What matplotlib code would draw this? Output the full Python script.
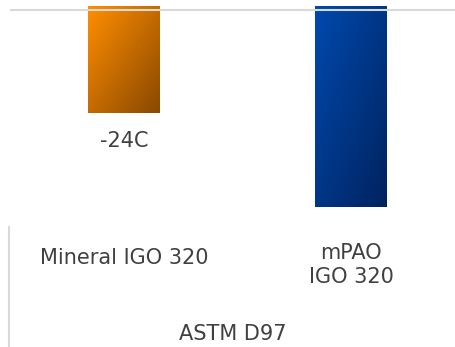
import numpy as np
import matplotlib.pyplot as plt
import matplotlib.transforms as mtransforms
from matplotlib.colors import LinearSegmentedColormap

categories = ["Mineral IGO 320", "mPAO\nIGO 320"]
pour_points = [-24, -46]
value_labels = ["-24C", None]
group_label = "ASTM D97"

gradients = [("#ff8e00", "#8a4800"), ("#0049ae", "#00235f")]
text_color = "#404040"
grid_color = "#d9d9d9"

W, H = 456, 347
fig = plt.figure(figsize=(W / 100, H / 100), dpi=100)
# plotting area in pixels: left, top, right, bottom
left, top, right, bottom = 10.5, 6, 464.5, 220
ax = fig.add_axes([left / W, 1 - bottom / H, (right - left) / W, (bottom - top) / H])

ytop, ybot = 1.0, -49.1
ax.set_xlim(-0.5, 1.5)
ax.axis("off")

x = np.arange(len(categories))
vals = np.array(pour_points, dtype=float)
bars = ax.bar(x, vals - ytop, bottom=ytop, width=0.317, color="none", linewidth=0)

# diagonal gradient fill for each bar
gx, gy = np.meshgrid(np.linspace(0, 1, 64), np.linspace(0, 1, 64))
grad = (gx + gy) / 2
for bar, (c0, c1) in zip(bars, gradients):
    cmap = LinearSegmentedColormap.from_list("g", [c0, c1])
    bx, by = bar.get_x(), bar.get_y()
    bw, bh = bar.get_width(), bar.get_height()
    im = ax.imshow(grad, cmap=cmap, extent=[bx, bx + bw, by + bh, by],
                   origin="upper", aspect="auto", zorder=1)
    im.set_clip_path(bar)

ax.set_xlim(-0.5, 1.5)
ax.set_ylim(ybot, ytop)
ax.axhline(0, color=grid_color, linewidth=1.5, zorder=3)

for xi, v, lab in zip(x, vals, value_labels):
    if lab:
        ax.annotate(lab, (xi, v), xytext=(0, -20), textcoords="offset points",
                    ha="center", va="center", fontsize=15, color=text_color)

# category labels and the group label under them
tr = mtransforms.blended_transform_factory(ax.transData, fig.transFigure)
ax.text(x[0], 1 - 258 / H, categories[0], transform=tr, ha="center", va="center",
        fontsize=15, color=text_color)
ax.text(x[1], 1 - 265 / H, categories[1], transform=tr, ha="center", va="center",
        fontsize=15, color=text_color, linespacing=1.25)
fig.text(233 / W, 1 - 334 / H, group_label, ha="center", va="center",
         fontsize=15, color=text_color)

fig.add_artist(plt.Line2D([9.5 / W, 9.5 / W], [0, 1 - 227 / H], color=grid_color,
                          linewidth=1.5, transform=fig.transFigure))

fig.savefig("out.png", dpi=100)
